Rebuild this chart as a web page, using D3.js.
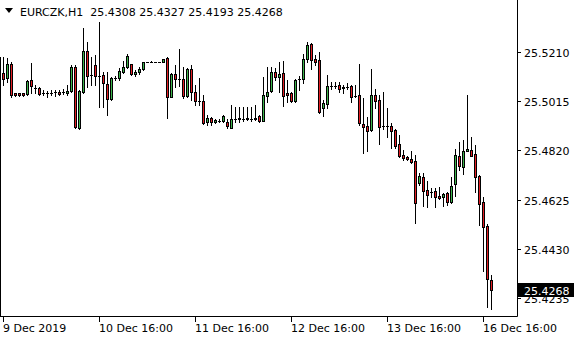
<!DOCTYPE html>
<html>
<head>
<meta charset="utf-8">
<script src="https://cdn.jsdelivr.net/npm/d3@7"></script>
<style>
  html, body { margin: 0; padding: 0; background: #fff; }
  svg { display: block; }
  text { font-family: "DejaVu Sans", Tahoma, sans-serif; font-size: 11px; fill: #000; }
</style>
</head>
<body>
<svg width="580" height="340"></svg>
<script>
// Symbol and last bar values shown in the title.
const symbol = "EURCZK,H1";
const lastQuote = ["25.4308", "25.4327", "25.4193", "25.4268"];

// Hourly bars: open, high, low, close.
const opens = [
  25.5126, 25.5106, 25.5161, 25.5047, 25.5046, 25.5046, 25.5043, 25.5098, 25.5066, 25.5066,
  25.5047, 25.5046, 25.5047, 25.5050, 25.5051, 25.5050, 25.5049, 25.5055, 25.5150, 25.4908,
  25.5051, 25.5214, 25.5118, 25.5157, 25.5114, 25.5118, 25.5082, 25.5023, 25.5107, 25.5107,
  25.5132, 25.5150, 25.5161, 25.5122, 25.5130, 25.5142, 25.5168, 25.5170, 25.5168, 25.5168,
  25.5169, 25.5185, 25.5031, 25.5122, 25.5102, 25.5102, 25.5036, 25.5142, 25.5051, 25.5016,
  25.5015, 25.4932, 25.4949, 25.4932, 25.4936, 25.4936, 25.4932, 25.4909, 25.4944, 25.4946,
  25.4944, 25.4947, 25.4945, 25.4944, 25.4956, 25.4937, 25.5036, 25.5055, 25.5130, 25.5110,
  25.5126, 25.5047, 25.5047, 25.5016, 25.5102, 25.5102, 25.5181, 25.5240, 25.5181, 25.5177,
  25.4989, 25.5003, 25.5074, 25.5075, 25.5078, 25.5069, 25.5071, 25.5074, 25.5035, 25.5039,
  25.4924, 25.4916, 25.4900, 25.5039, 25.5019, 25.4916, 25.4917, 25.4916, 25.4900, 25.4845,
  25.4801, 25.4793, 25.4786, 25.4779, 25.4692, 25.4716, 25.4663, 25.4655, 25.4659, 25.4639,
  25.4637, 25.4651, 25.4617, 25.4687, 25.4797, 25.4754, 25.4819, 25.4821, 25.4805, 25.4718,
  25.4615, 25.4522, 25.4308
];
const highs = [
  25.5189, 25.5185, 25.5169, 25.5047, 25.5047, 25.5048, 25.5098, 25.5165, 25.5078, 25.5070,
  25.5058, 25.5055, 25.5058, 25.5058, 25.5058, 25.5062, 25.5078, 25.5157, 25.5157, 25.5058,
  25.5304, 25.5250, 25.5190, 25.5197, 25.5327, 25.5130, 25.5130, 25.5110, 25.5115, 25.5146,
  25.5173, 25.5201, 25.5162, 25.5138, 25.5151, 25.5170, 25.5168, 25.5173, 25.5168, 25.5168,
  25.5181, 25.5190, 25.5126, 25.5157, 25.5221, 25.5151, 25.5146, 25.5157, 25.5078, 25.5106,
  25.5039, 25.4960, 25.4953, 25.4944, 25.4944, 25.4962, 25.4944, 25.4999, 25.4993, 25.4993,
  25.4993, 25.4993, 25.4993, 25.4999, 25.4960, 25.5111, 25.5151, 25.5151, 25.5146, 25.5169,
  25.5173, 25.5098, 25.5052, 25.5102, 25.5114, 25.5201, 25.5250, 25.5244, 25.5197, 25.5210,
  25.5019, 25.5118, 25.5091, 25.5091, 25.5091, 25.5078, 25.5085, 25.5078, 25.5078, 25.5161,
  25.5027, 25.4953, 25.5142, 25.5062, 25.5039, 25.5052, 25.4987, 25.4928, 25.4903, 25.4881,
  25.4821, 25.4797, 25.4818, 25.4801, 25.4731, 25.4730, 25.4700, 25.4671, 25.4671, 25.4675,
  25.4652, 25.4656, 25.4714, 25.4825, 25.4854, 25.4861, 25.5039, 25.4873, 25.4841, 25.4722,
  25.4636, 25.4528, 25.4327
];
const lows = [
  25.5078, 25.5090, 25.5031, 25.5035, 25.5035, 25.5036, 25.5039, 25.5047, 25.5047, 25.5039,
  25.5039, 25.5031, 25.5039, 25.5035, 25.5039, 25.5043, 25.5039, 25.5051, 25.4908, 25.4904,
  25.5047, 25.5072, 25.5078, 25.5078, 25.4991, 25.4991, 25.4960, 25.5019, 25.5098, 25.5098,
  25.5126, 25.5146, 25.5118, 25.5116, 25.5122, 25.5138, 25.5168, 25.5168, 25.5168, 25.5168,
  25.5169, 25.4948, 25.5030, 25.5072, 25.5075, 25.5027, 25.5030, 25.5019, 25.4999, 25.4999,
  25.4924, 25.4921, 25.4920, 25.4927, 25.4931, 25.4931, 25.4909, 25.4907, 25.4933, 25.4931,
  25.4936, 25.4940, 25.4936, 25.4940, 25.4931, 25.4936, 25.5011, 25.5051, 25.5098, 25.5051,
  25.4996, 25.5012, 25.5012, 25.5010, 25.5058, 25.5088, 25.5170, 25.5142, 25.5157, 25.4968,
  25.4956, 25.4987, 25.5064, 25.5067, 25.5052, 25.5048, 25.5061, 25.5012, 25.5030, 25.4920,
  25.4810, 25.4817, 25.4898, 25.4987, 25.4845, 25.4904, 25.4873, 25.4829, 25.4831, 25.4793,
  25.4782, 25.4782, 25.4770, 25.4534, 25.4683, 25.4600, 25.4596, 25.4637, 25.4596, 25.4627,
  25.4600, 25.4604, 25.4613, 25.4639, 25.4742, 25.4726, 25.4819, 25.4797, 25.4656, 25.4525,
  25.4344, 25.4202, 25.4193
];
const closes = [
  25.5102, 25.5161, 25.5039, 25.5039, 25.5039, 25.5040, 25.5094, 25.5074, 25.5067, 25.5043,
  25.5046, 25.5047, 25.5047, 25.5051, 25.5045, 25.5051, 25.5057, 25.5150, 25.4912, 25.5055,
  25.5214, 25.5115, 25.5117, 25.5115, 25.5113, 25.5086, 25.5023, 25.5106, 25.5107, 25.5134,
  25.5150, 25.5193, 25.5122, 25.5130, 25.5143, 25.5169, 25.5168, 25.5170, 25.5168, 25.5168,
  25.5181, 25.5031, 25.5122, 25.5102, 25.5101, 25.5036, 25.5142, 25.5052, 25.5016, 25.5016,
  25.4928, 25.4949, 25.4932, 25.4940, 25.4937, 25.4956, 25.4917, 25.4944, 25.4944, 25.4947,
  25.4945, 25.4946, 25.4944, 25.4947, 25.4936, 25.5039, 25.5052, 25.5130, 25.5111, 25.5122,
  25.5036, 25.5039, 25.5016, 25.5098, 25.5103, 25.5181, 25.5236, 25.5177, 25.5169, 25.4972,
  25.5007, 25.5074, 25.5075, 25.5076, 25.5062, 25.5068, 25.5072, 25.5032, 25.5036, 25.4929,
  25.4913, 25.4898, 25.5039, 25.5016, 25.4913, 25.4917, 25.4918, 25.4898, 25.4837, 25.4797,
  25.4791, 25.4786, 25.4774, 25.4612, 25.4718, 25.4660, 25.4643, 25.4656, 25.4637, 25.4631,
  25.4647, 25.4617, 25.4679, 25.4801, 25.4758, 25.4817, 25.4824, 25.4799, 25.4716, 25.4608,
  25.4518, 25.4311, 25.4268
];

// Price grid levels and time labels (bar index of each label).
const priceTicks = [25.5210, 25.5015, 25.4820, 25.4625, 25.4430, 25.4235];
const timeTickBars = [0, 24, 48, 72, 96, 120];
const timeTickLabels = ["9 Dec 2019", "10 Dec 16:00", "11 Dec 16:00", "12 Dec 16:00", "13 Dec 16:00", "16 Dec 16:00"];

const bars = opens.map((o, i) => ({ i: i, o: o, h: highs[i], l: lows[i], c: closes[i] }));

const svg = d3.select("svg");
const plotRight = 517;
const plotBottom = 316;

// Scales: bar index -> pixel column, price -> pixel row.
const x = d3.scaleLinear().domain([0, 1]).range([3, 7]);
const y = d3.scaleLinear().domain([25.4165, 25.5415]).range([plotBottom, 0]);
const py = v => Math.round(y(v));

const bullColor = "#3cb44b";
const bearColor = "#e31e24";

// Frame (the left edge starts below the title line).
svg.append("line").attr("x1", 0.5).attr("x2", 0.5).attr("y1", 57).attr("y2", plotBottom + 0.5)
  .attr("stroke", "#000");
svg.append("line").attr("x1", 0).attr("x2", plotRight + 0.5).attr("y1", plotBottom + 0.5).attr("y2", plotBottom + 0.5)
  .attr("stroke", "#000");
svg.append("line").attr("x1", plotRight + 0.5).attr("x2", plotRight + 0.5).attr("y1", 0).attr("y2", plotBottom + 0.5)
  .attr("stroke", "#000");

// Price axis on the right.
const yAxis = svg.append("g");
priceTicks.forEach(p => {
  const yy = py(p);
  yAxis.append("line").attr("x1", plotRight).attr("x2", plotRight + 4)
    .attr("y1", yy + 0.5).attr("y2", yy + 0.5).attr("stroke", "#000");
  yAxis.append("text").attr("x", 524).attr("y", yy + 4.5).text(p.toFixed(4));
});

// Time axis.
const xAxis = svg.append("g");
timeTickBars.forEach((b, k) => {
  const xx = Math.round(x(b));
  xAxis.append("line").attr("x1", xx + 0.5).attr("x2", xx + 0.5)
    .attr("y1", plotBottom).attr("y2", plotBottom + 6).attr("stroke", "#000");
  xAxis.append("text").attr("x", xx).attr("y", 332).text(timeTickLabels[k]);
});

// Candles.
const candles = svg.append("g").selectAll("g").data(bars).enter().append("g");
candles.each(function (d) {
  const g = d3.select(this);
  const cx = Math.round(x(d.i));
  const yo = py(d.o), yc = py(d.c), yh = py(d.h), yl = py(d.l);
  g.append("rect").attr("x", cx).attr("y", yh).attr("width", 1).attr("height", Math.max(1, yl - yh + 1))
    .attr("fill", "#000");
  const top = Math.min(yo, yc), bot = Math.max(yo, yc);
  if (bot - top < 1) {
    g.append("rect").attr("x", cx - 1).attr("y", top).attr("width", 3).attr("height", 1).attr("fill", "#000");
  } else {
    g.append("rect").attr("x", cx - 1).attr("y", top).attr("width", 3).attr("height", bot - top + 1)
      .attr("fill", "#000");
    if (bot - top >= 2) {
      g.append("rect").attr("x", cx).attr("y", top + 1).attr("width", 1).attr("height", bot - top - 1)
        .attr("fill", d.c >= d.o ? bullColor : bearColor);
    }
  }
});

// Current price marker.
const lastY = py(+lastQuote[3]);
svg.append("rect").attr("x", plotRight + 1).attr("y", lastY - 7).attr("width", 56).attr("height", 14).attr("fill", "#000");
svg.append("text").attr("x", 524).attr("y", lastY + 4.5).style("fill", "#fff").text(lastQuote[3]);

// Title.
svg.append("path").attr("d", "M5,8 L13,8 L9,13 Z").attr("fill", "#000");
svg.append("text").attr("x", 20).attr("y", 16).text(symbol + "  " + lastQuote.join(" "))
  .attr("xml:space", "preserve").style("white-space", "pre");
</script>
</body>
</html>
